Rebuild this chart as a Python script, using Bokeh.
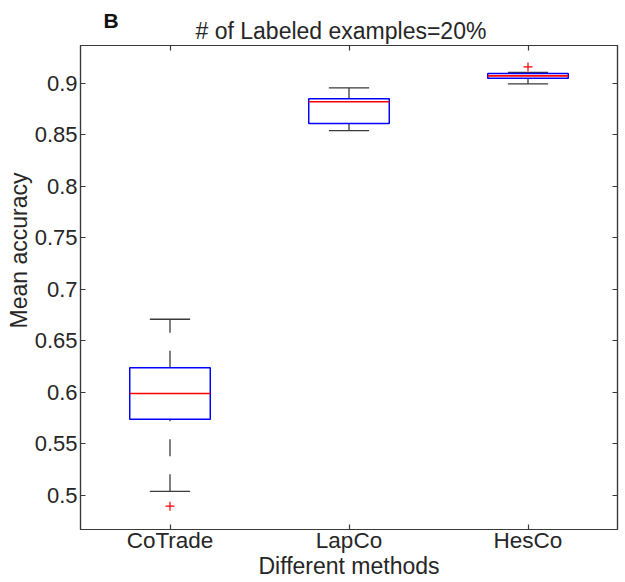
from bokeh.plotting import figure
from bokeh.models import FixedTicker, LinearAxis, Range1d, Title, ColumnDataSource
from bokeh.embed import file_html
from bokeh.resources import INLINE

# ---- data ----
methods = ["CoTrade", "LapCo", "HesCo"]
positions = [1, 2, 3]
upper_whisker = [0.671, 0.8955, 0.9105]
q3 = [0.624, 0.885, 0.9094]
median = [0.599, 0.882, 0.9071]
q1 = [0.574, 0.861, 0.9049]
lower_whisker = [0.504, 0.854, 0.8993]
outlier_pos = [1, 3]
outlier_val = [0.4896, 0.9158]
y_ticks = [0.5, 0.55, 0.6, 0.65, 0.7, 0.75, 0.8, 0.85, 0.9]

title_text = "# of Labeled examples=20%"
x_label = "Different methods"
y_label = "Mean accuracy"
panel_tag = "B"

BOX_W = 0.45
CAP_W = 0.225
FONT = "Liberation Sans"
TXT = "#262626"
AX = "#3a3a3a"

src = ColumnDataSource(dict(
    pos=positions,
    left=[x - BOX_W / 2 for x in positions],
    right=[x + BOX_W / 2 for x in positions],
    cap_l=[x - CAP_W / 2 for x in positions],
    cap_r=[x + CAP_W / 2 for x in positions],
    upper=upper_whisker, q3=q3, med=median, q1=q1, lower=lower_whisker,
))

p = figure(width=625, height=582,
           x_range=Range1d(0.5, 3.5), y_range=Range1d(0.46701, 0.93657),
           output_backend="svg", toolbar_location=None,
           min_border_left=80, min_border_right=8,
           min_border_top=45, min_border_bottom=53)
p.xgrid.visible = False
p.ygrid.visible = False
p.outline_line_color = AX
p.outline_line_width = 1.2
p.background_fill_color = "white"
p.border_fill_color = "white"

# axes
for ax in (p.xaxis[0], p.yaxis[0]):
    ax.major_tick_in = 5
    ax.major_tick_out = 0
    ax.minor_tick_line_color = None
    ax.axis_line_color = AX
    ax.axis_line_width = 1.2
    ax.major_tick_line_color = AX
    ax.major_tick_line_width = 1.2
    ax.major_label_text_font = FONT
    ax.major_label_text_font_size = "22px"
    ax.major_label_text_color = TXT
    ax.axis_label_text_font = FONT
    ax.axis_label_text_font_size = "23px"
    ax.axis_label_text_font_style = "normal"
    ax.axis_label_text_color = TXT

p.xaxis.ticker = FixedTicker(ticks=positions)
p.xaxis.major_label_overrides = {pos: m for pos, m in zip(positions, methods)}
p.xaxis.major_label_text_font_size = "22.5px"
p.xaxis.major_label_standoff = -2
p.xaxis.axis_label = x_label
p.xaxis.axis_label_standoff = -3
p.yaxis.ticker = FixedTicker(ticks=y_ticks)
p.yaxis.major_label_overrides = {t: ("%g" % t) for t in y_ticks}
p.yaxis.major_label_standoff = 3

def side_axis(ticks):
    a = LinearAxis(ticker=FixedTicker(ticks=ticks))
    a.major_tick_in = 5
    a.major_tick_out = 0
    a.minor_tick_line_color = None
    a.axis_line_color = AX
    a.axis_line_width = 1.2
    a.major_tick_line_color = AX
    a.major_tick_line_width = 1.2
    a.major_label_text_font_size = "1px"
    a.major_label_text_color = None
    a.major_label_standoff = 0
    return a

p.add_layout(side_axis(y_ticks), "right")
p.add_layout(side_axis(positions), "above")

# title (close to frame) and panel tag (outer)
t_main = Title(text=title_text, align="left", offset=115, standoff=4,
               vertical_align="bottom", text_font=FONT, text_font_size="23px",
               text_font_style="normal", text_color=TXT)
p.add_layout(t_main, "above")
t_tag = Title(text=panel_tag, align="left", offset=23, standoff=-36,
              vertical_align="bottom", text_font="Liberation Sans Narrow, Liberation Sans",
              text_font_size="21px", text_font_style="bold", text_color="#111111")
p.add_layout(t_tag, "above")

# y label as left title, shifted along the axis like the reference
t_y = Title(text=y_label, align="right", offset=127, standoff=0,
            vertical_align="bottom", text_font=FONT, text_font_size="23px",
            text_font_style="normal", text_color=TXT)
p.add_layout(t_y, "left")

# whiskers (dashed)
p.segment(x0="pos", x1="pos", y0="q3", y1="upper", source=src,
          line_color=AX, line_width=1.3, line_dash="17 18")
p.segment(x0="pos", x1="pos", y0="lower", y1="q1", source=src,
          line_color=AX, line_width=1.3, line_dash="17 18")
# caps
p.segment(x0="cap_l", x1="cap_r", y0="upper", y1="upper", source=src,
          line_color=AX, line_width=1.3)
p.segment(x0="cap_l", x1="cap_r", y0="lower", y1="lower", source=src,
          line_color=AX, line_width=1.3)
# boxes
p.quad(left="left", right="right", bottom="q1", top="q3", source=src,
       fill_color=None, line_color="#0000ff", line_width=1.5)
# medians
p.segment(x0="left", x1="right", y0="med", y1="med", source=src,
          line_color="#ff0000", line_width=1.6)
# outliers
p.scatter(x=outlier_pos, y=outlier_val, marker="cross", size=9,
          line_color="#ff0000", line_width=1.2)

open("out.html", "w").write(file_html(p, INLINE))
